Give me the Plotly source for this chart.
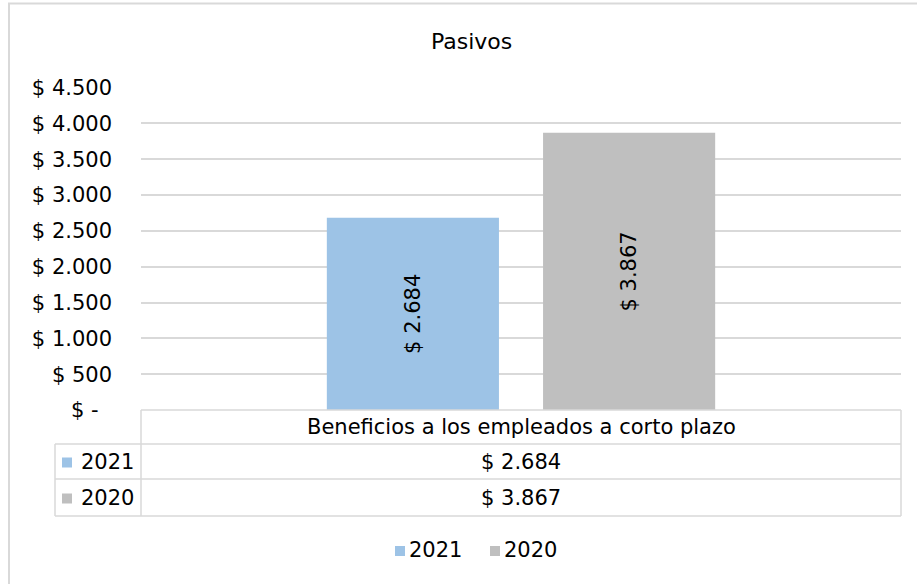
import plotly.graph_objects as go

# Data
category = ['Beneficios a los empleados a corto plazo']
series_names = ['2021', '2020']
series_values = [[2684], [3867]]
series_colors = ['#9DC3E6', '#BFBFBF']
tick_vals = [0, 500, 1000, 1500, 2000, 2500, 3000, 3500, 4000, 4500]
tick_text = ['$ -\u00a0\u00a0', '$ 500', '$ 1.000', '$ 1.500', '$ 2.000', '$ 2.500',
             '$ 3.000', '$ 3.500', '$ 4.000', '$ 4.500']

W, H = 917, 584
FONT = dict(family='DejaVu Sans, Arial, sans-serif', size=21, color='#000000')
GRID = '#D9D9D9'


def px(x):
    return x / W


def py(y):
    return 1 - y / H


def money(v):
    return '$ ' + f'{v:,}'.replace(',', '.')


def label(text, x, y, xanchor='center', size=21):
    return dict(text=text, x=px(x), y=py(y), xref='paper', yref='paper', showarrow=False,
                font=dict(FONT, size=size), xanchor=xanchor, yanchor='middle')


# plot area in pixels
PL, PR, PT, PB = 141, 901, 87.5, 410
# table rows in pixels
T_LEFT, ROW_H1, ROW_2021, ROW_2020 = 55, 444, 479, 516

fig = go.Figure()
for name, vals, color in zip(series_names, series_values, series_colors):
    fig.add_trace(go.Bar(
        x=category, y=vals, name=name,
        marker=dict(color=color, line=dict(width=0)),
        text=[money(v) for v in vals],
        textposition='inside', insidetextanchor='middle',
        textangle=-90, textfont=dict(size=21, color='#000000'),
        showlegend=False
    ))

shapes = []
line = dict(color=GRID, width=1.5)
# outer chart border (runs off right/bottom edge)
shapes.append(dict(type='rect', xref='paper', yref='paper',
                   x0=px(9), x1=px(930), y0=py(600), y1=py(3.5), line=dict(color=GRID, width=2)))
# data table lines
for y, x0 in [(PB, PL), (ROW_H1, T_LEFT), (ROW_2021, T_LEFT), (ROW_2020, T_LEFT)]:
    shapes.append(dict(type='line', xref='paper', yref='paper',
                       x0=px(x0), x1=px(PR), y0=py(y), y1=py(y), line=line))
for x, y0 in [(T_LEFT, ROW_H1), (PL, PB), (PR, PB)]:
    shapes.append(dict(type='line', xref='paper', yref='paper',
                       x0=px(x), x1=px(x), y0=py(y0), y1=py(ROW_2020), line=line))

annotations = [label('Pasivos', 471, 41, size=22)]
annotations.append(label(category[0], (PL + PR) / 2, (PB + ROW_H1) / 2))

row_bounds = [(ROW_H1, ROW_2021), (ROW_2021, ROW_2020)]
for (top, bot), name, vals, color in zip(row_bounds, series_names, series_values, series_colors):
    cy = (top + bot) / 2
    shapes.append(dict(type='rect', xref='paper', yref='paper',
                       x0=px(62), x1=px(72), y0=py(cy + 6), y1=py(cy - 4),
                       fillcolor=color, line=dict(width=0)))
    annotations.append(label(name, 79, cy, 'left'))
    annotations.append(label(money(vals[0]), (PL + PR) / 2, cy))

# legend
for lx, name, color in zip([395, 490], series_names, series_colors):
    shapes.append(dict(type='rect', xref='paper', yref='paper',
                       x0=px(lx), x1=px(lx + 10), y0=py(556), y1=py(546),
                       fillcolor=color, line=dict(width=0)))
    annotations.append(label(name, lx + 12, 550, 'left'))

fig.update_layout(
    width=W, height=H,
    margin=dict(l=0, r=0, t=0, b=0),
    paper_bgcolor='white', plot_bgcolor='white',
    font=FONT,
    barmode='group', bargap=0.431, bargroupgap=0.204,
    showlegend=False,
    shapes=shapes, annotations=annotations,
    xaxis=dict(domain=[px(PL), px(PR)], showticklabels=False, showgrid=False,
               zeroline=False, showline=False, automargin=False),
    yaxis=dict(domain=[py(PB), py(PT)], range=[0, 4500], tickvals=tick_vals,
               ticktext=tick_text, showgrid=True, gridcolor=GRID, gridwidth=1.5,
               zeroline=False, showline=False, ticklabelstandoff=28,
               tickfont=dict(size=21), automargin=False),
)

# page body has a default 8px margin; drop it so the figure sits at the window origin
fig.write_html('out.html', config={'displayModeBar': False},
               post_script="document.body.style.margin='0';")
